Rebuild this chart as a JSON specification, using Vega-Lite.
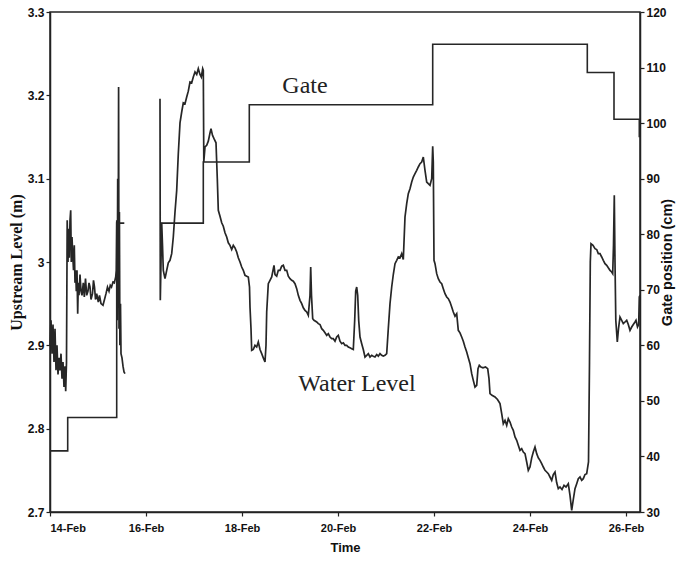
{
  "$schema": "https://vega.github.io/schema/vega-lite/v6.json",
  "width": 590,
  "height": 500,
  "autosize": "none",
  "padding": {"left": 50, "top": 12, "right": 53, "bottom": 49},
  "background": "white",
  "datasets": {
    "level": [
      {"t":"2000-02-14T00:00","v":2.90,"s":"a"},{"t":"2000-02-14T00:30","v":2.93,"s":"a"},{"t":"2000-02-14T01:00","v":2.89,"s":"a"},{"t":"2000-02-14T01:30","v":2.925,"s":"a"},{"t":"2000-02-14T02:00","v":2.88,"s":"a"},{"t":"2000-02-14T02:30","v":2.92,"s":"a"},{"t":"2000-02-14T03:00","v":2.87,"s":"a"},{"t":"2000-02-14T03:30","v":2.90,"s":"a"},{"t":"2000-02-14T04:00","v":2.865,"s":"a"},{"t":"2000-02-14T04:30","v":2.885,"s":"a"},{"t":"2000-02-14T05:00","v":2.87,"s":"a"},{"t":"2000-02-14T05:30","v":2.89,"s":"a"},{"t":"2000-02-14T06:00","v":2.86,"s":"a"},{"t":"2000-02-14T06:30","v":2.88,"s":"a"},{"t":"2000-02-14T07:00","v":2.85,"s":"a"},{"t":"2000-02-14T07:30","v":2.875,"s":"a"},{"t":"2000-02-14T07:51","v":2.845,"s":"a"},{"t":"2000-02-14T08:15","v":2.88,"s":"a"},{"t":"2000-02-14T08:36","v":3.05,"s":"a"},{"t":"2000-02-14T09:00","v":3.0,"s":"a"},{"t":"2000-02-14T09:21","v":3.04,"s":"a"},{"t":"2000-02-14T09:39","v":3.005,"s":"a"},{"t":"2000-02-14T10:00","v":3.05,"s":"a"},{"t":"2000-02-14T10:21","v":3.062,"s":"a"},{"t":"2000-02-14T10:39","v":3.0,"s":"a"},{"t":"2000-02-14T11:00","v":3.03,"s":"a"},{"t":"2000-02-14T11:21","v":3.01,"s":"a"},{"t":"2000-02-14T11:45","v":2.99,"s":"a"},{"t":"2000-02-14T12:09","v":3.02,"s":"a"},{"t":"2000-02-14T12:30","v":2.975,"s":"a"},{"t":"2000-02-14T12:51","v":2.99,"s":"a"},{"t":"2000-02-14T13:09","v":2.965,"s":"a"},{"t":"2000-02-14T13:30","v":2.99,"s":"a"},{"t":"2000-02-14T13:51","v":2.938,"s":"a"},{"t":"2000-02-14T14:09","v":2.975,"s":"a"},{"t":"2000-02-14T14:30","v":2.96,"s":"a"},{"t":"2000-02-14T15:00","v":2.985,"s":"a"},{"t":"2000-02-14T15:30","v":2.965,"s":"a"},{"t":"2000-02-14T16:00","v":2.96,"s":"a"},{"t":"2000-02-14T16:39","v":2.975,"s":"a"},{"t":"2000-02-14T17:09","v":2.958,"s":"a"},{"t":"2000-02-14T17:45","v":2.98,"s":"a"},{"t":"2000-02-14T18:21","v":2.96,"s":"a"},{"t":"2000-02-14T19:00","v":2.965,"s":"a"},{"t":"2000-02-14T19:30","v":2.975,"s":"a"},{"t":"2000-02-14T20:00","v":2.97,"s":"a"},{"t":"2000-02-14T20:30","v":2.955,"s":"a"},{"t":"2000-02-14T21:15","v":2.962,"s":"a"},{"t":"2000-02-14T21:45","v":2.978,"s":"a"},{"t":"2000-02-14T22:15","v":2.97,"s":"a"},{"t":"2000-02-14T22:45","v":2.955,"s":"a"},{"t":"2000-02-14T23:21","v":2.962,"s":"a"},{"t":"2000-02-15T00:09","v":2.952,"s":"a"},{"t":"2000-02-15T00:45","v":2.96,"s":"a"},{"t":"2000-02-15T01:30","v":2.95,"s":"a"},{"t":"2000-02-15T02:30","v":2.948,"s":"a"},{"t":"2000-02-15T03:15","v":2.955,"s":"a"},{"t":"2000-02-15T04:00","v":2.962,"s":"a"},{"t":"2000-02-15T04:45","v":2.97,"s":"a"},{"t":"2000-02-15T05:30","v":2.965,"s":"a"},{"t":"2000-02-15T06:09","v":2.972,"s":"a"},{"t":"2000-02-15T06:45","v":2.97,"s":"a"},{"t":"2000-02-15T07:30","v":2.976,"s":"a"},{"t":"2000-02-15T08:09","v":2.975,"s":"a"},{"t":"2000-02-15T08:51","v":2.982,"s":"a"},{"t":"2000-02-15T09:09","v":2.99,"s":"a"},{"t":"2000-02-15T09:24","v":3.05,"s":"a"},{"t":"2000-02-15T09:36","v":2.93,"s":"a"},{"t":"2000-02-15T09:51","v":3.10,"s":"a"},{"t":"2000-02-15T10:03","v":2.96,"s":"a"},{"t":"2000-02-15T10:18","v":3.21,"s":"a"},{"t":"2000-02-15T10:30","v":2.92,"s":"a"},{"t":"2000-02-15T10:42","v":3.06,"s":"a"},{"t":"2000-02-15T10:57","v":2.90,"s":"a"},{"t":"2000-02-15T11:15","v":2.95,"s":"a"},{"t":"2000-02-15T11:30","v":2.89,"s":"a"},{"t":"2000-02-15T12:00","v":2.885,"s":"a"},{"t":"2000-02-15T12:30","v":2.875,"s":"a"},{"t":"2000-02-15T13:00","v":2.868,"s":"a"},{"t":"2000-02-15T13:30","v":2.866,"s":"a"},
      {"t":"2000-02-16T07:00","v":3.196,"s":"b"},{"t":"2000-02-16T07:09","v":2.954,"s":"b"},{"t":"2000-02-16T07:30","v":3.0,"s":"b"},{"t":"2000-02-16T07:51","v":3.047,"s":"b"},{"t":"2000-02-16T08:15","v":3.02,"s":"b"},{"t":"2000-02-16T08:39","v":2.99,"s":"b"},{"t":"2000-02-16T09:30","v":2.98,"s":"b"},{"t":"2000-02-16T10:21","v":2.99,"s":"b"},{"t":"2000-02-16T11:09","v":2.999,"s":"b"},{"t":"2000-02-16T12:00","v":3.002,"s":"b"},{"t":"2000-02-16T12:51","v":3.01,"s":"b"},{"t":"2000-02-16T13:39","v":3.03,"s":"b"},{"t":"2000-02-16T14:30","v":3.06,"s":"b"},{"t":"2000-02-16T15:21","v":3.086,"s":"b"},{"t":"2000-02-16T16:09","v":3.13,"s":"b"},{"t":"2000-02-16T17:00","v":3.167,"s":"b"},{"t":"2000-02-16T17:51","v":3.18,"s":"b"},{"t":"2000-02-16T18:39","v":3.191,"s":"b"},{"t":"2000-02-16T19:30","v":3.19,"s":"b"},{"t":"2000-02-16T20:21","v":3.198,"s":"b"},{"t":"2000-02-16T21:09","v":3.205,"s":"b"},{"t":"2000-02-16T22:00","v":3.216,"s":"b"},{"t":"2000-02-16T22:51","v":3.215,"s":"b"},{"t":"2000-02-16T23:39","v":3.222,"s":"b"},{"t":"2000-02-17T00:30","v":3.228,"s":"b"},{"t":"2000-02-17T01:21","v":3.225,"s":"b"},{"t":"2000-02-17T02:09","v":3.232,"s":"b"},{"t":"2000-02-17T03:00","v":3.225,"s":"b"},{"t":"2000-02-17T03:39","v":3.222,"s":"b"},{"t":"2000-02-17T04:21","v":3.232,"s":"b"},{"t":"2000-02-17T04:39","v":3.23,"s":"b"},{"t":"2000-02-17T04:54","v":3.12,"s":"b"},{"t":"2000-02-17T05:30","v":3.138,"s":"b"},{"t":"2000-02-17T06:21","v":3.14,"s":"b"},{"t":"2000-02-17T07:09","v":3.145,"s":"b"},{"t":"2000-02-17T08:00","v":3.155,"s":"b"},{"t":"2000-02-17T08:30","v":3.16,"s":"b"},{"t":"2000-02-17T09:15","v":3.152,"s":"b"},{"t":"2000-02-17T10:00","v":3.148,"s":"b"},{"t":"2000-02-17T11:00","v":3.143,"s":"b"},{"t":"2000-02-17T11:39","v":3.10,"s":"b"},{"t":"2000-02-17T12:09","v":3.062,"s":"b"},{"t":"2000-02-17T13:00","v":3.055,"s":"b"},{"t":"2000-02-17T13:51","v":3.047,"s":"b"},{"t":"2000-02-17T14:39","v":3.043,"s":"b"},{"t":"2000-02-17T15:30","v":3.035,"s":"b"},{"t":"2000-02-17T16:21","v":3.03,"s":"b"},{"t":"2000-02-17T17:09","v":3.023,"s":"b"},{"t":"2000-02-17T18:00","v":3.02,"s":"b"},{"t":"2000-02-17T18:51","v":3.015,"s":"b"},{"t":"2000-02-17T19:39","v":3.02,"s":"b"},{"t":"2000-02-17T20:30","v":3.017,"s":"b"},{"t":"2000-02-17T21:21","v":3.012,"s":"b"},{"t":"2000-02-17T22:09","v":3.005,"s":"b"},{"t":"2000-02-17T23:00","v":3.0,"s":"b"},{"t":"2000-02-17T23:51","v":2.994,"s":"b"},{"t":"2000-02-18T00:39","v":2.99,"s":"b"},{"t":"2000-02-18T01:30","v":2.984,"s":"b"},{"t":"2000-02-18T02:21","v":2.983,"s":"b"},{"t":"2000-02-18T03:09","v":2.982,"s":"b"},{"t":"2000-02-18T03:45","v":2.97,"s":"b"},{"t":"2000-02-18T04:00","v":2.946,"s":"b"},{"t":"2000-02-18T04:30","v":2.92,"s":"b"},{"t":"2000-02-18T04:51","v":2.894,"s":"b"},{"t":"2000-02-18T05:39","v":2.895,"s":"b"},{"t":"2000-02-18T06:30","v":2.9,"s":"b"},{"t":"2000-02-18T07:21","v":2.898,"s":"b"},{"t":"2000-02-18T08:09","v":2.904,"s":"b"},{"t":"2000-02-18T09:00","v":2.895,"s":"b"},{"t":"2000-02-18T09:51","v":2.89,"s":"b"},{"t":"2000-02-18T10:39","v":2.885,"s":"b"},{"t":"2000-02-18T11:30","v":2.88,"s":"b"},{"t":"2000-02-18T12:00","v":2.90,"s":"b"},{"t":"2000-02-18T12:21","v":2.94,"s":"b"},{"t":"2000-02-18T13:09","v":2.974,"s":"b"},{"t":"2000-02-18T14:00","v":2.978,"s":"b"},{"t":"2000-02-18T14:51","v":2.982,"s":"b"},{"t":"2000-02-18T15:30","v":2.99,"s":"b"},{"t":"2000-02-18T16:00","v":2.996,"s":"b"},{"t":"2000-02-18T16:30","v":2.985,"s":"b"},{"t":"2000-02-18T17:21","v":2.983,"s":"b"},{"t":"2000-02-18T18:09","v":2.99,"s":"b"},{"t":"2000-02-18T19:00","v":2.99,"s":"b"},{"t":"2000-02-18T19:51","v":2.995,"s":"b"},{"t":"2000-02-18T20:39","v":2.996,"s":"b"},{"t":"2000-02-18T21:30","v":2.99,"s":"b"},{"t":"2000-02-18T22:21","v":2.99,"s":"b"},{"t":"2000-02-18T23:09","v":2.983,"s":"b"},{"t":"2000-02-19T00:00","v":2.98,"s":"b"},{"t":"2000-02-19T00:51","v":2.978,"s":"b"},{"t":"2000-02-19T01:39","v":2.977,"s":"b"},{"t":"2000-02-19T02:30","v":2.974,"s":"b"},{"t":"2000-02-19T03:21","v":2.968,"s":"b"},{"t":"2000-02-19T04:09","v":2.96,"s":"b"},{"t":"2000-02-19T05:00","v":2.954,"s":"b"},{"t":"2000-02-19T05:51","v":2.95,"s":"b"},{"t":"2000-02-19T06:39","v":2.945,"s":"b"},{"t":"2000-02-19T07:30","v":2.942,"s":"b"},{"t":"2000-02-19T08:21","v":2.94,"s":"b"},{"t":"2000-02-19T09:09","v":2.936,"s":"b"},{"t":"2000-02-19T10:00","v":2.96,"s":"b"},{"t":"2000-02-19T10:21","v":2.994,"s":"b"},{"t":"2000-02-19T10:45","v":2.96,"s":"b"},{"t":"2000-02-19T11:21","v":2.932,"s":"b"},{"t":"2000-02-19T12:00","v":2.93,"s":"b"},{"t":"2000-02-19T13:21","v":2.928,"s":"b"},{"t":"2000-02-19T14:09","v":2.926,"s":"b"},{"t":"2000-02-19T15:00","v":2.925,"s":"b"},{"t":"2000-02-19T15:51","v":2.92,"s":"b"},{"t":"2000-02-19T16:39","v":2.918,"s":"b"},{"t":"2000-02-19T17:30","v":2.915,"s":"b"},{"t":"2000-02-19T18:21","v":2.912,"s":"b"},{"t":"2000-02-19T19:09","v":2.914,"s":"b"},{"t":"2000-02-19T20:00","v":2.91,"s":"b"},{"t":"2000-02-19T20:51","v":2.908,"s":"b"},{"t":"2000-02-19T21:39","v":2.908,"s":"b"},{"t":"2000-02-19T22:30","v":2.905,"s":"b"},{"t":"2000-02-19T23:21","v":2.91,"s":"b"},{"t":"2000-02-20T00:09","v":2.912,"s":"b"},{"t":"2000-02-20T01:00","v":2.905,"s":"b"},{"t":"2000-02-20T01:51","v":2.902,"s":"b"},{"t":"2000-02-20T02:39","v":2.903,"s":"b"},{"t":"2000-02-20T03:30","v":2.90,"s":"b"},{"t":"2000-02-20T04:21","v":2.90,"s":"b"},{"t":"2000-02-20T05:09","v":2.898,"s":"b"},{"t":"2000-02-20T06:00","v":2.897,"s":"b"},{"t":"2000-02-20T06:51","v":2.896,"s":"b"},{"t":"2000-02-20T07:39","v":2.895,"s":"b"},{"t":"2000-02-20T08:21","v":2.93,"s":"b"},{"t":"2000-02-20T08:51","v":2.965,"s":"b"},{"t":"2000-02-20T09:21","v":2.97,"s":"b"},{"t":"2000-02-20T09:51","v":2.96,"s":"b"},{"t":"2000-02-20T10:21","v":2.93,"s":"b"},{"t":"2000-02-20T11:00","v":2.91,"s":"b"},{"t":"2000-02-20T11:51","v":2.902,"s":"b"},{"t":"2000-02-20T12:39","v":2.895,"s":"b"},{"t":"2000-02-20T13:30","v":2.886,"s":"b"},{"t":"2000-02-20T14:21","v":2.888,"s":"b"},{"t":"2000-02-20T15:09","v":2.89,"s":"b"},{"t":"2000-02-20T16:00","v":2.886,"s":"b"},{"t":"2000-02-20T16:51","v":2.888,"s":"b"},{"t":"2000-02-20T17:39","v":2.887,"s":"b"},{"t":"2000-02-20T18:30","v":2.886,"s":"b"},{"t":"2000-02-20T19:21","v":2.889,"s":"b"},{"t":"2000-02-20T20:09","v":2.887,"s":"b"},{"t":"2000-02-20T21:00","v":2.89,"s":"b"},{"t":"2000-02-20T21:51","v":2.888,"s":"b"},{"t":"2000-02-20T22:39","v":2.887,"s":"b"},{"t":"2000-02-20T23:30","v":2.888,"s":"b"},{"t":"2000-02-21T00:21","v":2.89,"s":"b"},{"t":"2000-02-21T01:09","v":2.92,"s":"b"},{"t":"2000-02-21T02:00","v":2.95,"s":"b"},{"t":"2000-02-21T02:51","v":2.97,"s":"b"},{"t":"2000-02-21T03:39","v":2.985,"s":"b"},{"t":"2000-02-21T04:30","v":2.998,"s":"b"},{"t":"2000-02-21T05:21","v":3.002,"s":"b"},{"t":"2000-02-21T06:09","v":3.006,"s":"b"},{"t":"2000-02-21T07:00","v":3.005,"s":"b"},{"t":"2000-02-21T07:51","v":3.01,"s":"b"},{"t":"2000-02-21T08:39","v":3.003,"s":"b"},{"t":"2000-02-21T09:30","v":3.054,"s":"b"},{"t":"2000-02-21T10:21","v":3.07,"s":"b"},{"t":"2000-02-21T11:09","v":3.082,"s":"b"},{"t":"2000-02-21T12:00","v":3.088,"s":"b"},{"t":"2000-02-21T12:51","v":3.096,"s":"b"},{"t":"2000-02-21T13:39","v":3.102,"s":"b"},{"t":"2000-02-21T14:30","v":3.106,"s":"b"},{"t":"2000-02-21T15:21","v":3.11,"s":"b"},{"t":"2000-02-21T16:09","v":3.114,"s":"b"},{"t":"2000-02-21T17:00","v":3.118,"s":"b"},{"t":"2000-02-21T17:51","v":3.12,"s":"b"},{"t":"2000-02-21T18:39","v":3.126,"s":"b"},{"t":"2000-02-21T19:30","v":3.11,"s":"b"},{"t":"2000-02-21T20:21","v":3.096,"s":"b"},{"t":"2000-02-21T21:09","v":3.094,"s":"b"},{"t":"2000-02-21T22:00","v":3.092,"s":"b"},{"t":"2000-02-21T22:51","v":3.10,"s":"b"},{"t":"2000-02-21T23:21","v":3.139,"s":"b"},{"t":"2000-02-21T23:39","v":3.12,"s":"b"},{"t":"2000-02-22T00:00","v":3.002,"s":"b"},{"t":"2000-02-22T00:30","v":2.998,"s":"b"},{"t":"2000-02-22T01:21","v":2.986,"s":"b"},{"t":"2000-02-22T02:09","v":2.98,"s":"b"},{"t":"2000-02-22T03:00","v":2.976,"s":"b"},{"t":"2000-02-22T03:51","v":2.974,"s":"b"},{"t":"2000-02-22T04:39","v":2.968,"s":"b"},{"t":"2000-02-22T05:30","v":2.962,"s":"b"},{"t":"2000-02-22T06:21","v":2.958,"s":"b"},{"t":"2000-02-22T07:09","v":2.956,"s":"b"},{"t":"2000-02-22T08:00","v":2.952,"s":"b"},{"t":"2000-02-22T08:51","v":2.946,"s":"b"},{"t":"2000-02-22T09:39","v":2.94,"s":"b"},{"t":"2000-02-22T10:30","v":2.935,"s":"b"},{"t":"2000-02-22T11:21","v":2.938,"s":"b"},{"t":"2000-02-22T12:09","v":2.918,"s":"b"},{"t":"2000-02-22T13:00","v":2.915,"s":"b"},{"t":"2000-02-22T13:51","v":2.91,"s":"b"},{"t":"2000-02-22T14:39","v":2.905,"s":"b"},{"t":"2000-02-22T15:30","v":2.898,"s":"b"},{"t":"2000-02-22T16:21","v":2.892,"s":"b"},{"t":"2000-02-22T17:09","v":2.885,"s":"b"},{"t":"2000-02-22T18:00","v":2.878,"s":"b"},{"t":"2000-02-22T18:51","v":2.866,"s":"b"},{"t":"2000-02-22T19:39","v":2.858,"s":"b"},{"t":"2000-02-22T20:30","v":2.85,"s":"b"},{"t":"2000-02-22T21:21","v":2.852,"s":"b"},{"t":"2000-02-22T22:00","v":2.872,"s":"b"},{"t":"2000-02-22T22:39","v":2.876,"s":"b"},{"t":"2000-02-22T23:30","v":2.874,"s":"b"},{"t":"2000-02-23T00:30","v":2.873,"s":"b"},{"t":"2000-02-23T01:45","v":2.874,"s":"b"},{"t":"2000-02-23T02:51","v":2.872,"s":"b"},{"t":"2000-02-23T03:30","v":2.86,"s":"b"},{"t":"2000-02-23T04:00","v":2.842,"s":"b"},{"t":"2000-02-23T05:00","v":2.84,"s":"b"},{"t":"2000-02-23T06:30","v":2.838,"s":"b"},{"t":"2000-02-23T07:45","v":2.835,"s":"b"},{"t":"2000-02-23T09:00","v":2.83,"s":"b"},{"t":"2000-02-23T09:51","v":2.818,"s":"b"},{"t":"2000-02-23T10:39","v":2.806,"s":"b"},{"t":"2000-02-23T11:30","v":2.81,"s":"b"},{"t":"2000-02-23T12:21","v":2.804,"s":"b"},{"t":"2000-02-23T13:09","v":2.812,"s":"b"},{"t":"2000-02-23T14:00","v":2.808,"s":"b"},{"t":"2000-02-23T14:51","v":2.802,"s":"b"},{"t":"2000-02-23T15:39","v":2.798,"s":"b"},{"t":"2000-02-23T16:30","v":2.79,"s":"b"},{"t":"2000-02-23T17:21","v":2.786,"s":"b"},{"t":"2000-02-23T18:09","v":2.78,"s":"b"},{"t":"2000-02-23T19:00","v":2.774,"s":"b"},{"t":"2000-02-23T19:51","v":2.776,"s":"b"},{"t":"2000-02-23T20:39","v":2.772,"s":"b"},{"t":"2000-02-23T21:30","v":2.77,"s":"b"},{"t":"2000-02-23T22:21","v":2.76,"s":"b"},{"t":"2000-02-23T23:09","v":2.75,"s":"b"},{"t":"2000-02-24T00:00","v":2.754,"s":"b"},{"t":"2000-02-24T00:51","v":2.765,"s":"b"},{"t":"2000-02-24T01:39","v":2.772,"s":"b"},{"t":"2000-02-24T02:30","v":2.778,"s":"b"},{"t":"2000-02-24T03:21","v":2.77,"s":"b"},{"t":"2000-02-24T04:09","v":2.765,"s":"b"},{"t":"2000-02-24T05:00","v":2.762,"s":"b"},{"t":"2000-02-24T05:51","v":2.758,"s":"b"},{"t":"2000-02-24T06:39","v":2.754,"s":"b"},{"t":"2000-02-24T07:30","v":2.75,"s":"b"},{"t":"2000-02-24T08:21","v":2.748,"s":"b"},{"t":"2000-02-24T09:09","v":2.746,"s":"b"},{"t":"2000-02-24T10:00","v":2.742,"s":"b"},{"t":"2000-02-24T10:51","v":2.738,"s":"b"},{"t":"2000-02-24T11:39","v":2.745,"s":"b"},{"t":"2000-02-24T12:30","v":2.748,"s":"b"},{"t":"2000-02-24T13:21","v":2.735,"s":"b"},{"t":"2000-02-24T14:09","v":2.728,"s":"b"},{"t":"2000-02-24T15:00","v":2.73,"s":"b"},{"t":"2000-02-24T16:00","v":2.727,"s":"b"},{"t":"2000-02-24T17:00","v":2.732,"s":"b"},{"t":"2000-02-24T18:00","v":2.73,"s":"b"},{"t":"2000-02-24T19:09","v":2.734,"s":"b"},{"t":"2000-02-24T20:00","v":2.72,"s":"b"},{"t":"2000-02-24T20:51","v":2.702,"s":"b"},{"t":"2000-02-24T21:39","v":2.715,"s":"b"},{"t":"2000-02-24T22:30","v":2.728,"s":"b"},{"t":"2000-02-24T23:21","v":2.734,"s":"b"},{"t":"2000-02-25T00:09","v":2.74,"s":"b"},{"t":"2000-02-25T01:00","v":2.742,"s":"b"},{"t":"2000-02-25T01:51","v":2.738,"s":"b"},{"t":"2000-02-25T02:39","v":2.74,"s":"b"},{"t":"2000-02-25T03:30","v":2.745,"s":"b"},{"t":"2000-02-25T04:21","v":2.746,"s":"b"},{"t":"2000-02-25T05:15","v":2.76,"s":"b"},{"t":"2000-02-25T05:45","v":2.88,"s":"b"},{"t":"2000-02-25T06:09","v":3.0,"s":"b"},{"t":"2000-02-25T06:30","v":3.022,"s":"b"},{"t":"2000-02-25T07:30","v":3.02,"s":"b"},{"t":"2000-02-25T08:30","v":3.016,"s":"b"},{"t":"2000-02-25T09:21","v":3.015,"s":"b"},{"t":"2000-02-25T10:09","v":3.01,"s":"b"},{"t":"2000-02-25T11:00","v":3.01,"s":"b"},{"t":"2000-02-25T11:51","v":3.006,"s":"b"},{"t":"2000-02-25T12:39","v":3.002,"s":"b"},{"t":"2000-02-25T13:30","v":2.998,"s":"b"},{"t":"2000-02-25T14:21","v":2.996,"s":"b"},{"t":"2000-02-25T15:09","v":2.993,"s":"b"},{"t":"2000-02-25T16:00","v":2.99,"s":"b"},{"t":"2000-02-25T16:51","v":2.988,"s":"b"},{"t":"2000-02-25T17:21","v":2.986,"s":"b"},{"t":"2000-02-25T17:45","v":3.02,"s":"b"},{"t":"2000-02-25T18:09","v":3.08,"s":"b"},{"t":"2000-02-25T18:30","v":3.0,"s":"b"},{"t":"2000-02-25T18:54","v":2.93,"s":"b"},{"t":"2000-02-25T19:39","v":2.904,"s":"b"},{"t":"2000-02-25T20:15","v":2.92,"s":"b"},{"t":"2000-02-25T21:00","v":2.934,"s":"b"},{"t":"2000-02-25T21:51","v":2.93,"s":"b"},{"t":"2000-02-25T22:39","v":2.926,"s":"b"},{"t":"2000-02-25T23:30","v":2.928,"s":"b"},{"t":"2000-02-26T00:21","v":2.93,"s":"b"},{"t":"2000-02-26T01:09","v":2.925,"s":"b"},{"t":"2000-02-26T02:00","v":2.918,"s":"b"},{"t":"2000-02-26T02:51","v":2.922,"s":"b"},{"t":"2000-02-26T03:39","v":2.925,"s":"b"},{"t":"2000-02-26T04:30","v":2.928,"s":"b"},{"t":"2000-02-26T05:00","v":2.93,"s":"b"},{"t":"2000-02-26T05:45","v":2.922,"s":"b"},{"t":"2000-02-26T06:21","v":2.925,"s":"b"},{"t":"2000-02-26T06:39","v":2.958,"s":"b"},{"t":"2000-02-26T07:00","v":2.96,"s":"b"}
    ],
    "gate": [
      {"t":"2000-02-14T00:00","g":41,"s":"a"},{"t":"2000-02-14T08:51","g":47,"s":"a"},{"t":"2000-02-15T09:21","g":82,"s":"a"},{"t":"2000-02-15T13:09","g":82,"s":"a"},
      {"t":"2000-02-16T07:00","g":82,"s":"b"},{"t":"2000-02-17T04:39","g":93,"s":"b"},{"t":"2000-02-18T03:39","g":103.3,"s":"b"},{"t":"2000-02-21T23:21","g":114.2,"s":"b"},{"t":"2000-02-25T04:39","g":109.1,"s":"b"},{"t":"2000-02-25T18:00","g":100.7,"s":"b"},{"t":"2000-02-26T06:39","g":97.6,"s":"b"},{"t":"2000-02-26T07:00","g":97.6,"s":"b"}
    ],
    "labels": [
      {"t":"2000-02-19T07:30","v":3.2028,"label":"Gate"},
      {"t":"2000-02-20T09:30","v":2.8452,"label":"Water Level"}
    ]
  },
  "encoding": {
    "x": {
      "field": "t", "type": "temporal", "title": "Time",
      "scale": {"domain": [{"year": 2000, "month": 2, "date": 14, "hours": 0}, {"year": 2000, "month": 2, "date": 26, "hours": 7}]},
      "axis": {
        "values": [{"year": 2000, "month": 2, "date": 14}, {"year": 2000, "month": 2, "date": 16}, {"year": 2000, "month": 2, "date": 18}, {"year": 2000, "month": 2, "date": 20}, {"year": 2000, "month": 2, "date": 22}, {"year": 2000, "month": 2, "date": 24}, {"year": 2000, "month": 2, "date": 26}],
        "format": "%-d-%b", "grid": false, "labelPadding": 6, "titlePadding": 8,
        "titleFont": "Liberation Sans", "titleFontSize": 13, "titleFontWeight": "bold"
      }
    }
  },
  "layer": [
    {
      "data": {"name": "level"},
      "mark": {"type": "line", "color": "#262626", "strokeWidth": 1.7},
      "encoding": {
        "y": {
          "field": "v", "type": "quantitative", "title": "Upstream Level (m)",
          "scale": {"domain": [2.7, 3.3], "nice": false, "zero": false},
          "axis": {"orient": "left", "values": [2.7, 2.8, 2.9, 3.0, 3.1, 3.2, 3.3], "format": ".2~f", "grid": false, "labelFontSize": 12, "titleFont": "Liberation Serif", "titleFontSize": 16, "titleFontWeight": "bold", "titlePadding": 3}
        },
        "detail": {"field": "s"}
      }
    },
    {
      "data": {"name": "labels"},
      "mark": {"type": "text", "font": "Liberation Serif", "fontSize": 24, "color": "#222", "align": "center", "baseline": "alphabetic"},
      "encoding": {
        "y": {"field": "v", "type": "quantitative", "scale": {"domain": [2.7, 3.3], "nice": false, "zero": false}, "axis": null},
        "text": {"field": "label"}
      }
    },
    {
      "data": {"name": "gate"},
      "mark": {"type": "line", "color": "#262626", "strokeWidth": 1.6, "interpolate": "step-after"},
      "encoding": {
        "y": {
          "field": "g", "type": "quantitative", "title": "Gate position (cm)",
          "scale": {"domain": [30, 120], "nice": false, "zero": false},
          "axis": {"orient": "right", "values": [30, 40, 50, 60, 70, 80, 90, 100, 110, 120], "grid": false, "labelFontSize": 12, "titleFont": "Liberation Sans", "titleFontSize": 14.5, "titleFontWeight": "bold", "titleAngle": 270, "titlePadding": 8}
        },
        "detail": {"field": "s"}
      }
    }
  ],
  "resolve": {"scale": {"y": "independent"}},
  "config": {
    "view": {"stroke": "#222", "strokeWidth": 1.5},
    "axis": {
      "domainColor": "#222", "domainWidth": 1.5, "tickColor": "#222", "tickWidth": 1.2, "tickSize": 4,
      "labelFont": "Liberation Sans", "labelFontSize": 11, "labelFontWeight": "bold", "labelColor": "#111", "titleColor": "#111"
    }
  }
}
